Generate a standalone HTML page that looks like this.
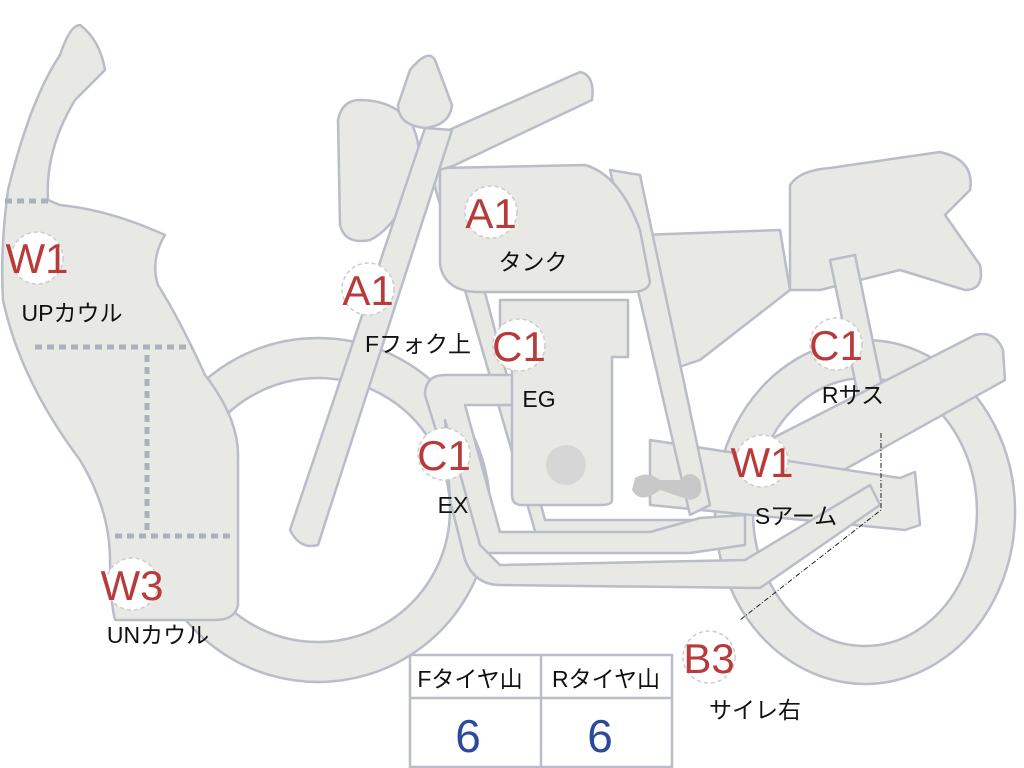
<!DOCTYPE html>
<html><head><meta charset="utf-8"><style>
body{margin:0;background:#fff;width:1024px;height:768px;overflow:hidden}
svg{display:block}
text{font-family:"Liberation Sans Narrow","Liberation Sans","Noto Sans CJK JP",sans-serif}
.b{fill:#e8e8e4;stroke:#b9bdc8;stroke-width:2.5;stroke-linejoin:round}
.c{fill:#fff;stroke:#ccc;stroke-width:1.5;stroke-dasharray:4 3}
.l{fill:#b83a3a;font-size:42px;text-anchor:middle}
.t{fill:#111;font-size:23px;text-anchor:middle}
</style></head><body>
<svg width="1024" height="768" viewBox="0 0 1024 768">
<path class="b" fill-rule="evenodd" d="M318,338 a172,172 0 1,0 0.1,0 Z M318,378 a132,132 0 1,1 -0.1,0 Z"/>
<path class="b" fill-rule="evenodd" d="M865,340 a150,172 0 1,0 0.1,0 Z M865,378 a112,134 0 1,1 -0.1,0 Z"/>
<path class="b" d="M790,185 Q800,170 830,168 L940,152 Q975,160 970,190 L945,215 L980,265 Q985,290 965,290 L900,270 L820,290 L790,290 Z"/>
<path class="b" d="M640,235 L780,230 L790,290 L700,360 L670,370 L665,295 L640,285 Z"/>
<path class="b" d="M830,260 L855,255 L885,400 L860,405 Z"/>
<path class="b" d="M720,465 L975,335 Q995,330 1003,350 L1005,380 L790,500 L745,515 Z"/>
<path class="b" d="M650,440 L900,478 L915,472 L920,525 L905,530 L650,505 Z"/>
<path class="b" d="M430,170 L450,160 L545,520 L700,520 L710,535 L540,548 Z"/>
<path class="b" d="M610,170 L640,175 L710,505 L690,515 Z"/>
<path class="b" d="M425,395 Q425,375 445,375 L520,375 L520,405 L465,405 L500,532 L650,532 L700,518 L745,515 L745,545 L690,553 L490,553 Q475,553 470,540 Z"/>
<path class="b" d="M450,500 L465,560 Q475,585 500,585 L760,588 L880,505 L870,485 L745,560 L500,565 L480,545 L445,420 Z"/>
<path class="b" d="M500,300 L628,300 L628,357 L612,357 L612,500 Q612,505 600,505 L522,505 Q512,505 512,495 L512,357 L500,357 Z"/>
<circle cx="566" cy="465" r="20" fill="#d6d6d6"/>
<path d="M635,478 Q648,470 660,480 L680,480 Q690,468 700,480 Q705,498 690,500 L660,490 Q640,505 632,490 Z" fill="#c8c8c8"/>
<path class="b" d="M440,168 L585,165 Q620,175 640,230 L650,282 Q648,292 630,292 L475,292 Q445,290 440,265 Z"/>
<path class="b" d="M415,145 L580,72 Q595,75 592,100 L455,165 L440,170 Z"/>
<path class="b" d="M360,100 Q390,100 410,120 Q425,150 415,175 Q400,225 370,240 Q345,245 340,225 L338,120 Q342,100 360,100 Z"/>
<path class="b" d="M410,70 Q428,48 435,60 L452,105 Q450,125 425,128 Q398,125 398,105 Z"/>
<path class="b" d="M425,128 L452,130 L318,545 Q300,550 290,530 Z"/>
<path class="b" d="M80,25 Q100,40 105,70 Q90,85 75,100 Q45,150 48,200 L60,205 Q110,210 165,235 Q150,260 158,285 Q180,320 205,375 Q240,420 238,460 L238,605 Q235,620 215,620 L115,620 Q110,600 110,560 Q110,510 80,460 Q20,380 3,300 Q0,250 8,190 Q30,100 60,55 Q70,25 80,25 Z"/>
<g stroke="#aab0bc" stroke-width="5" stroke-dasharray="7 5" fill="none">
<line x1="5" y1="201" x2="50" y2="201"/>
<line x1="35" y1="347" x2="192" y2="347"/>
<line x1="147" y1="355" x2="147" y2="530"/>
<line x1="115" y1="536" x2="235" y2="536"/>
</g>
<path d="M881,433 L881,510 L740,620" stroke="#222" stroke-width="1" stroke-dasharray="5 2 1 2" fill="none"/>
<g>
<circle class="c" cx="37" cy="258" r="26"/><text class="l" x="37" y="273">W1</text><text class="t" x="72" y="321">UPカウル</text>
<circle class="c" cx="491" cy="212" r="26"/><text class="l" x="491" y="228">A1</text><text class="t" x="533" y="270">タンク</text>
<circle class="c" cx="368" cy="289" r="26"/><text class="l" x="368" y="305">A1</text><text class="t" x="418" y="352">Fフォク上</text>
<circle class="c" cx="519" cy="345" r="26"/><text class="l" x="519" y="361">C1</text><text class="t" x="539" y="407">EG</text>
<circle class="c" cx="836" cy="344" r="26"/><text class="l" x="836" y="360">C1</text><text class="t" x="853" y="403">Rサス</text>
<circle class="c" cx="444" cy="454" r="26"/><text class="l" x="444" y="470">C1</text><text class="t" x="453" y="513">EX</text>
<circle class="c" cx="762" cy="461" r="26"/><text class="l" x="762" y="477">W1</text><text class="t" x="796" y="524">Sアーム</text>
<circle class="c" cx="132" cy="584" r="26"/><text class="l" x="132" y="600">W3</text><text class="t" x="158" y="643">UNカウル</text>
<circle class="c" cx="709" cy="657" r="26"/><text class="l" x="709" y="673">B3</text><text class="t" x="755" y="718">サイレ右</text>
</g>
<rect x="410" y="655" width="262" height="112" fill="#fff" stroke="#b9bdc8" stroke-width="2.5"/>
<line x1="410" y1="698" x2="672" y2="698" stroke="#b9bdc8" stroke-width="2.5"/>
<line x1="541" y1="655" x2="541" y2="767" stroke="#b9bdc8" stroke-width="2.5"/>
<text class="t" x="470" y="687">Fタイヤ山</text>
<text class="t" x="606" y="687">Rタイヤ山</text>
<text x="468" y="752" font-size="46" fill="#2a4a9a" text-anchor="middle">6</text>
<text x="600" y="752" font-size="46" fill="#2a4a9a" text-anchor="middle">6</text>
</svg>
</body></html>
